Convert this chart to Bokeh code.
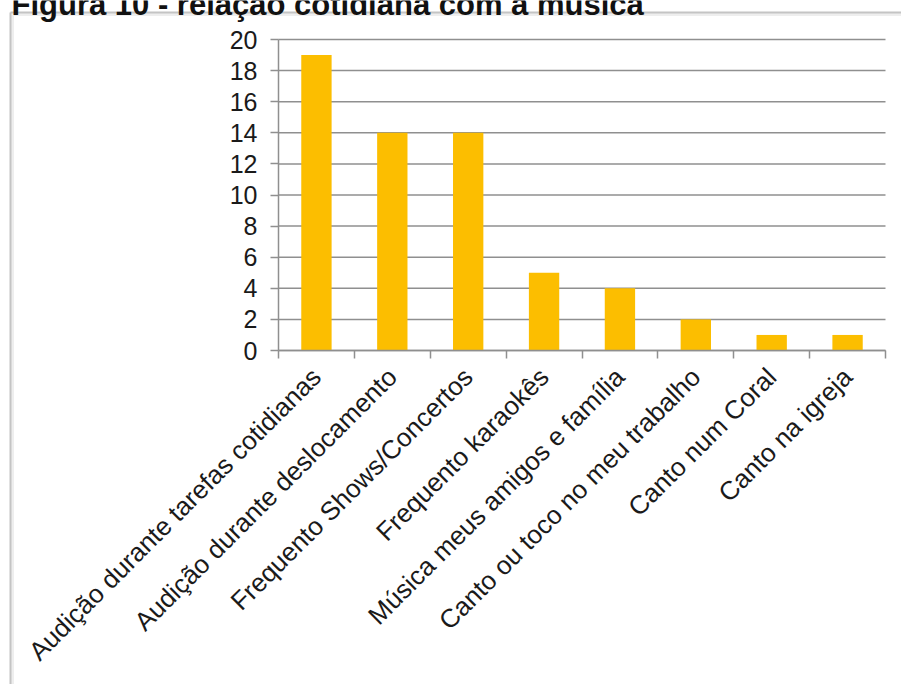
import math
from bokeh.plotting import figure
from bokeh.models import Label, FixedTicker, Range1d
from bokeh.embed import file_html
from bokeh.resources import INLINE

title_text = "Figura 10 - relação cotidiana com a música"
categories = [
    "Audição durante tarefas cotidianas",
    "Audição durante deslocamento",
    "Frequento Shows/Concertos",
    "Frequento karaokês",
    "Música meus amigos e família",
    "Canto ou toco no meu trabalho",
    "Canto num Coral",
    "Canto na igreja",
]
values = [19, 14, 14, 5, 4, 2, 1, 1]
y_ticks = [0, 2, 4, 6, 8, 10, 12, 14, 16, 18, 20]

FONT = "Liberation Sans"
GRID = "#8f8f8f"
BORDER = "#c4c4c4"
SHADOW = "#eeeeee"
W, H = 901, 684
# pixel box of the plotting area inside the canvas
PX_L, PX_R, PX_T, PX_B = 278, 885, 39, 350
n = len(categories)
y_max = y_ticks[-1]
ux = n / (PX_R - PX_L)
uy = y_max / (PX_B - PX_T)


def dx(px):  # canvas pixel (from left) -> data x
    return (px - PX_L) * ux


def dy(py):  # canvas pixel (from top) -> data y
    return (PX_B - py) * uy


p = figure(
    width=W, height=H,
    x_range=Range1d(dx(0), dx(W)), y_range=Range1d(dy(H), dy(0)),
    output_backend="svg", toolbar_location=None, min_border=0,
    background_fill_color="white", border_fill_color="white",
)
p.outline_line_color = None
p.xgrid.visible = False
p.ygrid.visible = False

# light grey chart frame (top and left edges are inside the page) with a faint inner shadow
p.segment(x0=[dx(12), dx(12)], y0=[dy(14), dy(14)], x1=[dx(W + 5), dx(12)], y1=[dy(14), dy(H + 5)],
          line_color=SHADOW, line_width=3)
p.segment(x0=[dx(10), dx(10)], y0=[dy(12), dy(12)], x1=[dx(W + 5), dx(10)], y1=[dy(12), dy(H + 5)],
          line_color=BORDER, line_width=2)

# horizontal grid lines
p.segment(x0=[0] * len(y_ticks), x1=[n] * len(y_ticks), y0=y_ticks, y1=y_ticks,
          line_color=GRID, line_width=1.5)

xs = [i + 0.5 for i in range(n)]
p.vbar(x=xs, top=values, width=0.4, fill_color="#FCBE00", line_color=None)

ya = p.yaxis[0]
ya.fixed_location = 0
ya.bounds = (0, y_max)
ya.ticker = FixedTicker(ticks=y_ticks)
ya.axis_line_color = GRID
ya.axis_line_width = 1.5
ya.major_tick_line_color = GRID
ya.major_tick_line_width = 1.5
ya.major_tick_out = 8
ya.major_tick_in = 0
ya.minor_tick_line_color = None
ya.major_label_text_font = FONT
ya.major_label_text_font_size = "25px"
ya.major_label_text_color = "#1a1a1a"
ya.major_label_standoff = 13

xa = p.xaxis[0]
xa.fixed_location = 0
xa.bounds = (0, n)
xa.ticker = FixedTicker(ticks=xs, minor_ticks=list(range(n + 1)))
xa.major_label_overrides = {x: c for x, c in zip(xs, categories)}
xa.axis_line_color = GRID
xa.axis_line_width = 1.5
xa.major_tick_line_color = None
xa.major_tick_out = 0
xa.major_tick_in = 0
xa.minor_tick_line_color = GRID
xa.minor_tick_line_width = 1.5
xa.minor_tick_out = 8
xa.minor_tick_in = 0
xa.major_label_orientation = math.pi / 4
xa.major_label_text_font = FONT
xa.major_label_text_font_size = "26px"
xa.major_label_text_color = "#1a1a1a"
xa.major_label_standoff = 14

# caption above the frame, cut off by the page top as in the source
p.add_layout(Label(
    x=dx(11), y=dy(4),
    text=title_text, text_font=FONT, text_font_style="bold",
    text_font_size="31px", text_color="#111111", text_baseline="alphabetic",
))

open("out.html", "w").write(file_html(p, INLINE))
